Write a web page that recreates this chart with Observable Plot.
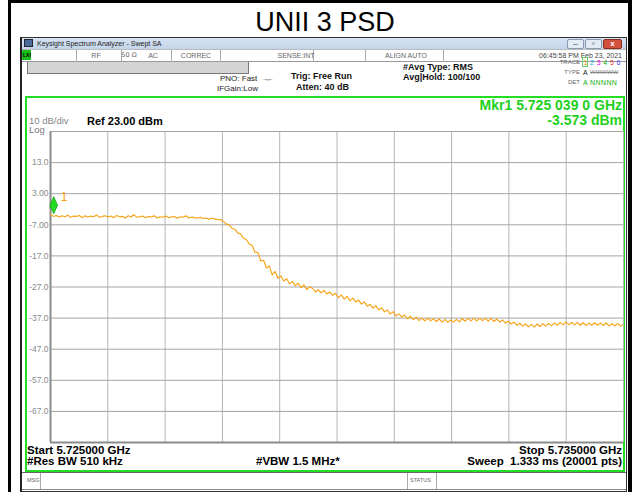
<!DOCTYPE html>
<html><head><meta charset="utf-8">
<script src="https://cdn.jsdelivr.net/npm/d3@7"></script>
<script src="https://cdn.jsdelivr.net/npm/@observablehq/plot@0.6"></script>
<style>
body{margin:0;background:#fff;font-family:"Liberation Sans",Arial,sans-serif;}
#root{position:relative;width:632px;height:492px;overflow:hidden;background:#fff;}
.a{position:absolute;white-space:nowrap;box-sizing:border-box;}
</style></head><body><div id="root"></div>
<script>
// ---- data ----
const chartTitle = "UNII 3 PSD";
const freqStartMHz = 5725;
const freqStopMHz = 5735;
const refLevelDbm = 23;
const xGridMHz = [5725,5726,5727,5728,5729,5730,5731,5732,5733,5734,5735];
const yGridDbm = [23,13,3,-7,-17,-27,-37,-47,-57,-67,-77];
const yTickValues = [13,3,-7,-17,-27,-37,-47,-57,-67];
const yTickLabels = ["13.0","3.00","-7.00","-17.0","-27.0","-37.0","-47.0","-57.0","-67.0"];
const markerFreqMHz = [5725.039];
const markerDbm = [-3.573];
const traceDbm = [
-3.6,-4.3,-4.0,-4.5,-4.1,-4.4,-3.9,-4.6,-4.2,-4.3,
-4.0,-4.7,-4.1,-4.5,-4.2,-4.4,-3.8,-4.6,-4.3,-4.1,
-4.5,-4.2,-4.7,-4.0,-4.4,-4.3,-4.8,-4.1,-4.5,-3.7,
-4.6,-4.4,-4.2,-4.7,-4.3,-4.5,-4.1,-4.8,-4.4,-4.6,
-4.2,-4.7,-4.5,-4.3,-4.9,-4.4,-4.6,-4.1,-4.8,-4.5,
-4.7,-4.9,-4.6,-5.0,-4.8,-5.2,-4.9,-5.1,-5.4,-5.3,
-5.9,-6.7,-7.0,-8.1,-8.4,-9.6,-9.9,-11.3,-11.7,-13.2,
-13.6,-15.8,-15.9,-18.6,-18.4,-20.9,-20.2,-23.1,-22.0,-24.2,
-23.4,-25.1,-24.3,-26.0,-25.2,-26.6,-25.8,-27.2,-26.3,-27.8,-27.0,
-27.4,-28.6,-27.9,-28.9,-28.1,-29.3,-28.6,-29.7,-29.0,-30.4,
-29.5,-30.9,-30.0,-31.4,-30.6,-31.8,-31.2,-32.5,-31.8,-33.2,
-32.6,-33.8,-33.0,-34.4,-33.7,-35.0,-34.4,-35.7,-34.9,-36.3,
-35.6,-36.7,-36.0,-37.2,-36.4,-37.5,-36.7,-37.8,-37.0,-37.9,
-37.0,-37.9,-37.2,-38.1,-37.3,-38.3,-37.4,-38.4,-37.6,-38.3,
-37.4,-38.2,-37.2,-38.0,-37.1,-37.9,-37.0,-37.9,-37.1,-37.8,
-37.0,-38.0,-37.1,-38.1,-37.3,-38.3,-37.6,-38.6,-38.0,-38.9,
-38.3,-39.3,-38.6,-39.6,-38.9,-39.8,-39.0,-39.9,-38.9,-39.7,
-38.8,-39.6,-38.7,-39.4,-38.6,-39.3,-38.4,-39.2,-38.3,-39.1,
-38.4,-39.2,-38.4,-39.3,-38.5,-39.4,-38.6,-39.3,-38.5,-39.3,
-38.6,-39.4,-38.5,-39.5,-38.8,-39.5,-38.7,-39.6,-38.9
];

// ---- helpers ----
const root = document.getElementById("root");
function box(x,y,w,h,css){const d=document.createElement("div");d.className="a";d.style.cssText=`left:${x}px;top:${y}px;width:${w}px;height:${h}px;`+(css||"");root.appendChild(d);return d;}
function txt(x,yc,s,size,o={}){
  const d=document.createElement("div");d.className="a";d.textContent=s;
  const anchor=o.anchor||"start";
  let css=`top:${yc-size*0.49}px;font-size:${size}px;line-height:${size}px;color:${o.color||"#000"};font-weight:${o.weight||"normal"};`;
  if(anchor==="start")css+=`left:${x}px;`;else if(anchor==="end")css+=`right:${632-x}px;text-align:right;`;else css+=`left:${x}px;transform:translateX(-50%);`;
  if(o.css)css+=o.css;
  d.style.cssText=css;root.appendChild(d);return d;
}

// outer frame + title
box(8,0,624,3,"background:#000;");
box(8,0,3,492,"background:#000;");
box(628,0,4,492,"background:#000;");
txt(325,22,chartTitle,27,{anchor:"middle",color:"#000"});

// analyzer window
box(20,37,607,455,"background:#fff;border:1px solid #333;border-left:2px solid #222;");
box(22,38,604,11,"background:linear-gradient(#d6e3f3,#c3d4ea);");
box(24,39,9,8,"background:#4a6a9a;border:1px solid #223;");
txt(37,43.5,"Keysight Spectrum Analyzer - Swept SA",7,{color:"#222"});
box(567,39,17,10,"background:#e3ebf5;border:1px solid #8a9ab0;border-radius:2px;");
box(585,39,17,10,"background:#e3ebf5;border:1px solid #8a9ab0;border-radius:2px;");
box(603,39,19,10,"background:#d2503c;border:1px solid #8a3020;border-radius:2px;");
txt(575.5,44,"–",8,{anchor:"middle",color:"#333"});
txt(593.5,44,"▫",8,{anchor:"middle",color:"#333"});
txt(612.5,44,"x",8,{anchor:"middle",color:"#fff",weight:"bold"});

// status row
box(22,49,604,13,"background:#fff;border-bottom:1px solid #999;border-top:1px solid #bbb;");
box(22,50,9,10,"background:#18c018;");
txt(23,55,"LXI",5,{color:"#000",weight:"bold"});
[76,121,171,220,313,365,443].forEach(x=>box(x,50,1,12,"background:#aaa;"));
txt(96,55.5,"RF",7,{anchor:"middle",color:"#666"});
txt(129,55.5,"50 Ω",7,{anchor:"middle",color:"#666",css:"font-family:'DejaVu Sans',sans-serif;font-size:6.5px;"});
txt(153,55.5,"AC",7,{anchor:"middle",color:"#666"});
txt(196,55.5,"CORREC",7,{anchor:"middle",color:"#666"});
txt(296,55.5,"SENSE:INT",7,{anchor:"middle",color:"#666"});
txt(406,55.5,"ALIGN AUTO",7,{anchor:"middle",color:"#666"});
txt(622,55.5,"06:45:58 PM Feb 23, 2021",7,{anchor:"end",color:"#444"});

// info area
box(27,62,222,12,"background:#d4d4d4;border:1px solid #777;border-top:none;");
txt(220,79,"PNO: Fast",8,{color:"#222"});
txt(217,89,"IFGain:Low",8,{color:"#222"});
txt(262,78.5,"→←",7,{color:"#222",css:"letter-spacing:-2px;"});
txt(291,76,"Trig: Free Run",9,{weight:"bold",color:"#111"});
txt(296,87,"Atten: 40 dB",9,{weight:"bold",color:"#111"});
txt(403,67,"#Avg Type: RMS",9,{weight:"bold",color:"#111"});
txt(403,77,"Avg|Hold: 100/100",9,{weight:"bold",color:"#111"});
txt(580,62,"TRACE",6,{anchor:"end",color:"#666"});
txt(580,72,"TYPE",6,{anchor:"end",color:"#666"});
txt(580,82,"DET",6,{anchor:"end",color:"#666"});
box(582,57,6,10,"border:1px solid #6c6;");
const trCols=["#e0a000","#00b0e0","#e000e0","#10b010","#e03030","#4050ff"];
["1","2","3","4","5","6"].forEach((s,i)=>txt(583.5+i*6.6,62,s,7,{color:trCols[i]}));
txt(583,72,"A",7,{color:"#222"});
txt(590,72,"WWWWW",6,{color:"#888",css:"text-decoration:line-through;"});
txt(583,82,"A NNNNN",7,{color:"#10b010",css:"letter-spacing:0.4px;"});

// plot frame (green)
box(25,96,600,376,"border:2px solid #22dd22;");
txt(622,104.5,"Mkr1 5.725 039 0 GHz",14,{anchor:"end",weight:"bold",color:"#1fd01f"});
txt(622,119.5,"-3.573 dBm",14,{anchor:"end",weight:"bold",color:"#1fd01f"});
txt(29,120.5,"10 dB/div",9.5,{color:"#888"});
txt(29,130,"Log",9.5,{color:"#777"});
txt(87,121,"Ref 23.00 dBm",11,{weight:"bold",color:"#000"});
txt(27,450.5,"Start 5.725000 GHz",11.5,{weight:"bold",color:"#000"});
txt(27,462,"#Res BW 510 kHz",11.5,{weight:"bold",color:"#000"});
txt(256,462,"#VBW 1.5 MHz*",11.5,{weight:"bold",color:"#000"});
txt(622,450.5,"Stop 5.735000 GHz",11.5,{anchor:"end",weight:"bold",color:"#000"});
txt(622,462,"Sweep  1.333 ms (20001 pts)",11.5,{anchor:"end",weight:"bold",color:"#000",css:"white-space:pre;"});

// msg row
box(22,472,604,18,"background:#fff;border-top:1px solid #666;border-bottom:1px solid #888;");
box(40,473,1,16,"background:#aaa;");
box(407,473,1,16,"background:#aaa;");
box(436,473,1,16,"background:#aaa;");
txt(27,481,"MSG",5.5,{color:"#666"});
txt(410,481,"STATUS",5.5,{color:"#666"});

// ---- chart ----
const n = traceDbm.length;
const trace = traceDbm.map((v,i)=>({f: freqStartMHz + i*(freqStopMHz-freqStartMHz)/(n-1), v}));
const marker = markerFreqMHz.map((f,i)=>({f, v: markerDbm[i]}));
const labelFor = new Map(yTickValues.map((v,i)=>[v,yTickLabels[i]]));
const tallDiamond = {draw(ctx){ctx.moveTo(0,-8.5);ctx.lineTo(3.8,0);ctx.lineTo(0,8.5);ctx.lineTo(-3.8,0);ctx.closePath();}};

const chart = Plot.plot({
  width: 598, height: 373,
  marginLeft: 24, marginRight: 1, marginTop: 34, marginBottom: 28,
  style: {background: "transparent", fontFamily: "Liberation Sans, Arial, sans-serif", fontSize: "8.5px", color: "#8a8a8a"},
  x: {domain: [freqStartMHz, freqStopMHz], axis: null},
  y: {domain: [refLevelDbm - 100, refLevelDbm], axis: null},
  marks: [
    Plot.ruleX(xGridMHz, {stroke: "#b6b6b6", strokeWidth: 1}),
    Plot.ruleY(yGridDbm, {stroke: "#a4a4a4", strokeWidth: 1}),
    Plot.axisY(yTickValues, {tickSize: 0, tickPadding: 2, tickFormat: d => labelFor.get(d), fill: "#8a8a8a", label: null}),
    Plot.ruleX([freqStartMHz], {stroke: "#8c8c8c", strokeWidth: 2}),
    Plot.ruleY([refLevelDbm - 100], {stroke: "#8c8c8c", strokeWidth: 2}),
    Plot.line(trace, {x: "f", y: "v", stroke: "#f5a010", strokeWidth: 1.1, clip: true}),
    Plot.dot(marker, {x: "f", y: "v", symbol: tallDiamond, fill: "#22dd22", stroke: "#0a9a0a", strokeWidth: 0.7, dx: 1, dy: -9}),
    Plot.text(marker, {x: "f", y: "v", text: () => "1", fill: "#f5a010", fontSize: 12, dx: 8, dy: -17, textAnchor: "start"})
  ]
});
chart.style.position = "absolute";
chart.style.left = "26px";
chart.style.top = "97px";
root.appendChild(chart);
</script></body></html>
